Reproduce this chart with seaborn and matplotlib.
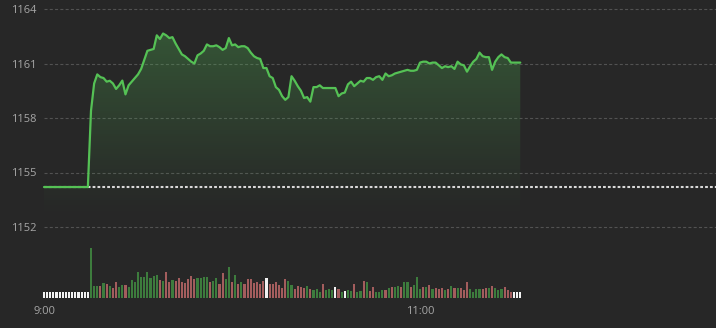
import numpy as np
import pandas as pd
import matplotlib
matplotlib.use("Agg")
import matplotlib.pyplot as plt
import seaborn as sns

# ---------------- data ----------------
REF_PRICE = 1154.2
y_ticks = [1152, 1155, 1158, 1161, 1164]
x_tick_minutes = [0, 120]
x_tick_labels = ["9:00", "11:00"]

preopen_prices = [1154.2, 1154.2, 1154.2, 1154.2, 1154.2, 1154.2, 1154.2, 1154.2,
                  1154.2, 1154.2, 1154.2, 1154.2, 1154.2, 1154.2, 1154.2]
session_prices = [
    1158.4, 1159.9, 1160.4, 1160.25, 1160.2, 1160.0, 1160.05, 1159.9, 1159.6, 1159.8,
    1160.06, 1159.3, 1159.8, 1160.0, 1160.2, 1160.4, 1160.7, 1161.2, 1161.7, 1161.75,
    1161.8, 1162.55, 1162.35, 1162.65, 1162.55, 1162.4, 1162.45, 1162.1, 1161.8, 1161.5,
    1161.4, 1161.25, 1161.1, 1161.0, 1161.45, 1161.55, 1161.7, 1162.05, 1161.95, 1161.95,
    1162.0, 1161.9, 1161.75, 1161.85, 1162.4, 1162.0, 1162.05, 1161.9, 1161.95, 1161.95,
    1161.85, 1161.6, 1161.4, 1161.3, 1161.25, 1160.75, 1160.75, 1160.3, 1160.2, 1159.7,
    1159.55, 1159.2, 1159.0, 1159.15, 1160.3, 1160.05, 1159.75, 1159.5, 1159.1, 1159.15,
    1158.9, 1159.7, 1159.7, 1159.8, 1159.65, 1159.65, 1159.65, 1159.65, 1159.65, 1159.2,
    1159.35, 1159.4, 1159.85, 1160.0, 1159.75, 1159.9, 1160.05, 1160.0, 1160.2, 1160.2,
    1160.1, 1160.25, 1160.3, 1160.1, 1160.45, 1160.3, 1160.35, 1160.45, 1160.5, 1160.55,
    1160.6, 1160.65, 1160.6, 1160.6, 1160.65, 1161.05, 1161.1, 1161.1, 1161.0, 1161.05,
    1161.05, 1160.9, 1160.75, 1160.85, 1160.8, 1160.85, 1160.7, 1161.1, 1160.95, 1160.9,
    1160.55, 1160.85, 1161.1, 1161.25, 1161.6, 1161.4, 1161.35, 1161.35, 1160.65, 1161.1,
    1161.35, 1161.5, 1161.35, 1161.3, 1161.05, 1161.05, 1161.05, 1161.05,
]

preopen_volume = [5.7, 5.7, 5.7, 5.7, 5.7, 5.7, 5.7, 5.7, 5.7, 5.7, 5.7, 5.7, 5.7, 5.7, 5.7]
preopen_dir = ["W"] * 15
session_volume = [
    50, 12, 12, 12, 14.7, 13.7, 12, 10.3, 16.3, 10.7,
    13, 13, 11.3, 18, 16.3, 25.7, 20.7, 20.7, 25.7, 19.7,
    22, 23.3, 18, 17.3, 26.3, 16, 18, 17.3, 19.7, 16.3,
    14.7, 19, 22, 19, 19.7, 20.3, 21.3, 21.3, 16.3, 17.3,
    19.7, 13.7, 24.7, 19, 30.7, 16, 23, 14, 16.3, 14,
    19, 19, 14.7, 16.3, 14, 17, 19.7, 13.7, 13.7, 16.3,
    13, 9.7, 19, 17, 13, 8.7, 12, 10.7, 9.7, 12,
    9, 8, 9, 6, 13.7, 8, 9, 8, 10.7, 8.7,
    6.3, 7, 8, 7, 14, 6, 7, 17.3, 16.3, 7,
    10.7, 6.3, 6.3, 8, 8, 10.3, 10.7, 11.3, 12, 10.7,
    16, 16, 10.7, 12.7, 21, 8.7, 11.3, 10.7, 13, 8.7,
    9.7, 8.7, 10.3, 8, 8.7, 12, 9.7, 9.7, 10.3, 8,
    16.3, 8.7, 6, 9, 9, 8.7, 9.7, 10.3, 12, 9.7,
    8, 8.7, 10.7, 8, 6, 6, 6, 6,
]
session_dir = [
    "G", "G", "G", "R", "G", "R", "G", "R", "R", "G",
    "G", "R", "G", "G", "G", "G", "G", "G", "G", "G",
    "G", "G", "R", "G", "R", "R", "G", "R", "R", "R",
    "R", "R", "R", "R", "G", "G", "G", "G", "R", "G",
    "G", "R", "R", "G", "G", "R", "G", "R", "G", "R",
    "R", "R", "R", "R", "R", "R", "W", "R", "R", "R",
    "R", "R", "R", "G", "G", "R", "R", "R", "R", "G",
    "R", "G", "G", "G", "R", "G", "G", "G", "W", "R",
    "G", "W", "G", "G", "R", "G", "G", "R", "G", "R",
    "R", "G", "G", "G", "R", "G", "R", "G", "G", "R",
    "G", "G", "R", "G", "G", "G", "R", "G", "R", "G",
    "R", "R", "R", "G", "R", "G", "R", "G", "R", "R",
    "R", "G", "G", "G", "G", "R", "R", "G", "R", "G",
    "G", "G", "R", "R", "R", "W", "W", "W",
]

# ---------------- style ----------------
BG = "#272727"
LINE = "#55c155"
GRID = "#525252"
TXT = "#a6a6a6"
BAR_COLORS = {"G": "#3d7c3d", "R": "#a35d5d", "W": "#f2f2f2"}

sns.set_theme(style="dark")
plt.rcParams["font.family"] = ["Open Sans", "DejaVu Sans"]
plt.rcParams["lines.scale_dashes"] = False

prices = preopen_prices + session_prices
minutes = list(range(len(prices)))
volume = preopen_volume + session_volume
dirs = preopen_dir + session_dir

df_p = pd.DataFrame({"minute": minutes, "price": prices})
df_v = pd.DataFrame({"minute": list(range(len(volume))), "volume": volume, "dir": dirs})

W, H = 716, 328
fig = plt.figure(figsize=(W / 100, H / 100), dpi=100, facecolor=BG)

ppm = 376 / 120.0                 # pixels per minute
left_px = 44 - 0.5 * ppm
xmin = -0.5
xmax = xmin + (W - left_px) / ppm

# price axes
ppu = 54.5 / 3.0                  # pixels per price unit
ax = fig.add_axes([left_px / W, (H - 240) / H, (W - left_px) / W, 240 / H])
ax.set_facecolor("none")
ax.set_xlim(xmin, xmax)
ax.set_ylim(1152 - 13 / ppu, 1164 + 9 / ppu)

ax.hlines(y_ticks, 0, xmax, colors=GRID, linestyles=(0, (2.2, 1.6)), lw=0.8, zorder=1)

BASE = 1152.55
top = max(prices)
poly = ax.fill_between(df_p["minute"], df_p["price"], BASE, facecolor="none",
                       edgecolor="none")
n = 256
alpha = np.linspace(0, 1, n) ** 1.1 * 0.33
grad = np.zeros((n, 1, 4))
grad[..., 0] = 0.32
grad[..., 1] = 0.70
grad[..., 2] = 0.33
grad[:, 0, 3] = alpha
im = ax.imshow(grad, extent=[minutes[0], minutes[-1], BASE, top], origin="lower",
               aspect="auto", zorder=2, interpolation="bilinear")
im.set_clip_path(poly.get_paths()[0], transform=ax.transData)

ax.hlines(REF_PRICE, 0, xmax, colors="#d9d9d9", linestyles=(0, (2.0, 1.5)),
          lw=1.5, zorder=3)
sns.lineplot(data=df_p, x="minute", y="price", ax=ax, color=LINE, lw=1.6,
             zorder=4)

ax.set_yticks(y_ticks)
ax.set_yticklabels([str(t) for t in y_ticks])
ax.set_xticks([])
ax.tick_params(axis="y", length=0, pad=4.6, labelsize=8, labelcolor=TXT)
ax.set_xlabel("")
ax.set_ylabel("")
for s in ax.spines.values():
    s.set_visible(False)
ax.grid(False)

# volume axes
axv = fig.add_axes([left_px / W, (H - 298) / H, (W - left_px) / W, 60 / H])
axv.set_facecolor("none")
sns.barplot(data=df_v, x="minute", y="volume", hue="dir", palette=BAR_COLORS,
            native_scale=True, dodge=False, width=0.66, legend=False,
            saturation=1, linewidth=0, edgecolor="none", ax=axv)
axv.set_xlim(xmin, xmax)
axv.set_ylim(0, 60)
axv.set_yticks([])
axv.set_xticks(x_tick_minutes)
axv.set_xticklabels(x_tick_labels)
axv.tick_params(axis="x", length=0, pad=5.5, labelsize=8, labelcolor=TXT)
axv.set_xlabel("")
axv.set_ylabel("")
for s in axv.spines.values():
    s.set_visible(False)
axv.grid(False)

fig.savefig("out.png", dpi=100, facecolor=BG)
